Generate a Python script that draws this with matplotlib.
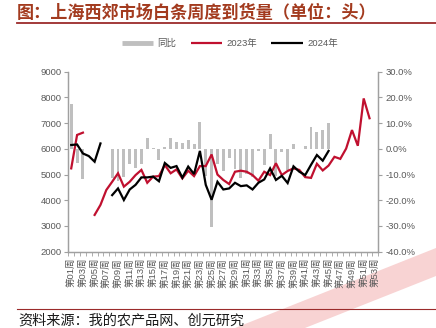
import numpy as np
import matplotlib
matplotlib.use("Agg")
import matplotlib.pyplot as plt
from matplotlib.lines import Line2D
from matplotlib.patches import Polygon

plt.rcParams["font.family"] = ["Liberation Sans", "Noto Sans CJK SC", "DejaVu Sans"]

# ---------------------------------------------------------------------------
# Data
# ---------------------------------------------------------------------------
week_labels = [f"第{i:02d}周" for i in range(1, 54)]

arrivals_2023 = [
    5240, 6540, 6630, None, 3430, 3820, 4400, 4720, 5050, 4530,
    4720, 4980, 5180, 4680, 4920, 4940, 5370, 5050, 5200, 4850,
    5150, 4940, 5330, 5330, 5780, 5000, 4790, 4630, 5110, 5150,
    5110, 4980, 4760, 5110, 4980, 5440, 4980, 5140, 5240, 5180,
    4900, 4870, 5420, 5160, 5350, 5690, 5610, 6010, 6730, 6120,
    7960, 7190, None,
]

arrivals_2024 = [
    6150, 6170, 5820, 5720, 5500, 6210, None, 4200, 4460, 4010,
    4420, 4600, 4890, 4890, 4920, 4740, 5450, 5260, 5330, 4880,
    5310, 5020, 5920, 4600, 4020, 4720, 4420, 4460, 4680, 4550,
    4580, 4420, 4680, 4810, 5240, 4790, 4950, 4670, 5320, 5110,
    4980, 5380, 5760, 5540, 5920, None, None, None, None, None,
    None, None, None,
]

yoy_pct = [
    17.5, -5.6, -11.8, None, None, None, None, -11.2, -12.5, -10.8,
    -6.0, -7.5, -6.0, 4.2, 0.3, -4.5, 0.8, 4.4, 2.5, 2.1,
    3.3, 2.0, 10.5, -10.5, -30.4, -6.0, -8.5, -3.4, -8.0, -11.2,
    -9.6, -10.8, -1.0, -6.2, 5.8, -10.5, -1.1, -8.4, 1.9, 0.0,
    1.0, 8.6, 6.4, 7.4, 10.0, None, None, None, None, None,
    None, None, None,
]

left_ticks = [2000, 3000, 4000, 5000, 6000, 7000, 8000, 9000]
right_ticks = [-40, -30, -20, -10, 0, 10, 20, 30]

# ---------------------------------------------------------------------------
# Styling
# ---------------------------------------------------------------------------
RED = "#C0102F"
BLACK = "#000000"
GRAY_BAR = "#BFBFBF"
AXIS_GRAY = "#A0A0A0"
TEXT_GRAY = "#595959"
TITLE_COLOR = "#A33B1F"
RULE_COLOR = "#9B2B2B"

W, H = 436, 328
fig = plt.figure(figsize=(W / 100, H / 100), dpi=100)

# watermark stripe (bottom right)
stripe = Polygon([(235 / W, 0), (305 / W, 0), (1.0, 1 - 276 / H), (1.0, 1 - 248 / H)],
                 closed=True, transform=fig.transFigure, facecolor="#F8D3D3",
                 edgecolor="none", zorder=0)
fig.patches.append(stripe)

ax = fig.add_axes([68.3 / W, (H - 251.7) / H, 310 / W, 180 / H])
ax2 = ax.twinx()
ax.set_zorder(ax2.get_zorder() + 1)
ax.patch.set_visible(False)
ax2.patch.set_visible(False)

x = np.arange(len(week_labels))

# YoY bars on the right axis
bar_x = [i for i, v in enumerate(yoy_pct) if v is not None]
bar_v = [v for v in yoy_pct if v is not None]
ax2.bar(bar_x, bar_v, width=0.5, color=GRAY_BAR, zorder=1)

# weekly arrivals lines on the left axis
y23 = np.array([np.nan if v is None else v for v in arrivals_2023], dtype=float)
y24 = np.array([np.nan if v is None else v for v in arrivals_2024], dtype=float)
ax.plot(x, y23, color=RED, linewidth=1.6, solid_joinstyle="miter")
ax.plot(x, y24, color=BLACK, linewidth=1.6, solid_joinstyle="miter")

ax.set_xlim(-0.5, len(week_labels) - 0.5)
ax.set_ylim(2000, 9000)
ax2.set_ylim(-40, 30)

ax.set_yticks(left_ticks)
ax.set_yticklabels([str(v) for v in left_ticks])
ax2.set_yticks(right_ticks)
ax2.set_yticklabels([f"{v:.1f}%" for v in right_ticks])

ax.set_xticks(x[::2])
ax.set_xticklabels(week_labels[::2], rotation=90)
ax.set_xticks(np.arange(-0.5, len(week_labels)), minor=True)

for a in (ax, ax2):
    a.spines["top"].set_visible(False)
    for side in ("left", "right", "bottom"):
        a.spines[side].set_color(AXIS_GRAY)
        a.spines[side].set_linewidth(0.9)

ax.tick_params(axis="y", which="major", length=3, width=0.8, color=AXIS_GRAY,
               labelsize=6.8, labelcolor=TEXT_GRAY, pad=2)
ax2.tick_params(axis="y", which="major", length=3, width=0.8, color=AXIS_GRAY,
                labelsize=6.8, labelcolor=TEXT_GRAY, pad=2)
ax.tick_params(axis="x", which="major", length=0, labelsize=6.8,
               labelcolor=TEXT_GRAY, pad=4.5)
ax.tick_params(axis="x", which="minor", length=3, width=0.6, color=AXIS_GRAY)
ax2.tick_params(axis="x", which="both", length=0)

# legend
handles = [
    Line2D([], [], color=GRAY_BAR, linewidth=3.5, solid_capstyle="butt"),
    Line2D([], [], color=RED, linewidth=1.6, solid_capstyle="butt"),
    Line2D([], [], color=BLACK, linewidth=1.6, solid_capstyle="butt"),
]
leg = fig.legend(handles, ["同比", "2023年", "2024年"], loc="center",
                 bbox_to_anchor=(0.527, 1 - 43.5 / H), ncol=3, frameon=False,
                 fontsize=6.8, handlelength=3.3, handletextpad=0.5,
                 columnspacing=1.5)
for t in leg.get_texts():
    t.set_color(TEXT_GRAY)

# title and rules
fig.text(17 / W, 1 - 13 / H, "图：上海西郊市场白条周度到货量（单位：头）",
         family=["Noto Sans CJK SC"], fontsize=12.3, fontweight="bold",
         color=TITLE_COLOR, va="center", ha="left")
fig.add_artist(Line2D([17 / W, 1.0], [1 - 23 / H, 1 - 23 / H],
                      transform=fig.transFigure, color=RULE_COLOR, linewidth=1.3))
fig.add_artist(Line2D([17 / W, 1.0], [1 - 308.5 / H, 1 - 308.5 / H],
                      transform=fig.transFigure, color=RULE_COLOR, linewidth=0.8))
fig.text(18 / W, 1 - 321 / H, "资料来源：我的农产品网、创元研究",
         family=["Noto Sans CJK SC"], fontsize=10.2, color="#1A1A1A",
         va="center", ha="left")

fig.savefig("out.png", dpi=100)
plt.close(fig)
